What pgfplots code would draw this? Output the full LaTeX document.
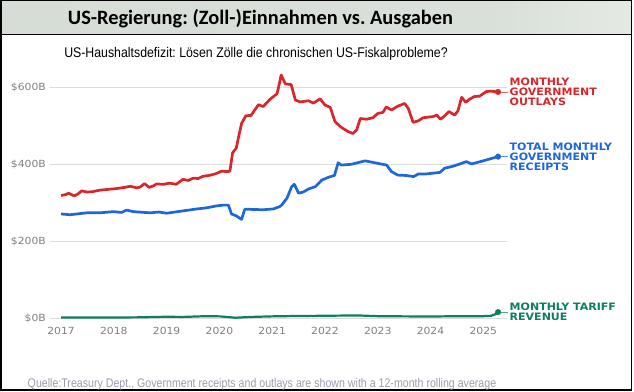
\documentclass[border=0pt]{standalone}
\usepackage{pgfplots}
\pgfplotsset{compat=1.18}
\usepackage{fontspec}
\setmainfont{Liberation Sans}
\newfontfamily\titlefont{Carlito}
\newfontfamily\narrowfont{Liberation Sans}[FakeStretch=0.88]
\newfontfamily\footfont{Liberation Sans}[FakeStretch=0.85]
\newfontfamily\labelfont{DejaVu Sans}[FakeStretch=1.08]
\newfontfamily\tickfam{DejaVu Sans}[FakeStretch=1.1]
\frenchspacing
\definecolor{outred}{HTML}{D9262B}
\definecolor{recblue}{HTML}{1E66DC}
\definecolor{targreen}{HTML}{0B7F60}
\definecolor{tickgray}{HTML}{7F7F7F}
\definecolor{gridgray}{HTML}{DCDCDC}
\definecolor{footgray}{HTML}{9C9CAC}
\definecolor{bandgray}{HTML}{D3DBD3}
\pgfdeclarehorizontalshading{band}{100bp}{color(0bp)=(bandgray); color(65bp)=(bandgray!85!white); color(100bp)=(white)}
\newcommand{\lab}{\labelfont\bfseries\fontsize{10.2bp}{10bp}\selectfont}

\pgfplotstableread{
x y
2017.00 320
2017.08 322
2017.14 326
2017.25 319
2017.32 324
2017.39 332
2017.49 329
2017.60 330
2017.74 334
2017.90 336
2018.05 338
2018.20 341
2018.31 344
2018.43 340
2018.50 342
2018.58 351
2018.67 341
2018.75 345
2018.81 350
2018.94 349
2019.06 352
2019.18 349
2019.31 362
2019.41 359
2019.50 365
2019.60 364
2019.69 370
2019.80 372
2019.92 376
2020.04 383
2020.17 382
2020.20 384
2020.25 431
2020.32 443
2020.36 470
2020.42 507
2020.50 527
2020.60 528
2020.74 556
2020.83 551
2020.96 570
2021.09 584
2021.12 600
2021.17 633
2021.25 610
2021.36 608
2021.44 568
2021.53 563
2021.69 566
2021.78 560
2021.91 571
2022.00 555
2022.10 549
2022.19 512
2022.31 497
2022.44 486
2022.53 481
2022.60 490
2022.67 520
2022.79 518
2022.91 522
2023.00 533
2023.10 536
2023.16 550
2023.26 542
2023.38 552
2023.51 559
2023.58 546
2023.67 510
2023.77 514
2023.86 522
2024.05 525
2024.12 529
2024.19 518
2024.27 527
2024.35 538
2024.46 529
2024.52 540
2024.59 575
2024.67 562
2024.74 570
2024.83 577
2024.93 578
2025.06 590
2025.15 591
2025.28 589
}\outlays

\pgfplotstableread{
x y
2017.00 272
2017.17 270
2017.49 275
2017.74 275
2017.99 278
2018.15 276
2018.24 282
2018.37 278
2018.69 275
2018.85 277
2019.00 274
2019.31 280
2019.57 285
2019.76 288
2019.95 293
2020.07 295
2020.17 295
2020.23 272
2020.32 267
2020.42 258
2020.48 284
2020.57 284
2020.83 283
2021.02 285
2021.14 291
2021.18 295
2021.28 313
2021.37 343
2021.42 349
2021.50 326
2021.59 329
2021.69 337
2021.82 343
2021.94 360
2022.06 367
2022.18 372
2022.25 405
2022.31 399
2022.50 401
2022.76 410
2022.98 404
2023.17 399
2023.26 382
2023.38 373
2023.54 372
2023.68 369
2023.77 376
2023.92 376
2024.18 380
2024.27 391
2024.40 395
2024.56 402
2024.68 408
2024.78 402
2025.00 410
2025.28 421
}\receipts

\pgfplotstableread{
x y
2017.00 3
2017.50 3
2018.00 3
2018.50 3.5
2019.00 5
2019.30 4.5
2019.75 6.5
2020.00 6
2020.30 2.5
2020.60 4.5
2021.00 6
2021.50 7
2022.00 7.5
2022.60 8.5
2023.00 6.5
2023.50 6
2024.00 5.5
2024.50 6.5
2025.00 6.5
2025.15 7.5
2025.22 11
2025.28 17
}\tariff

\begin{document}
\begin{tikzpicture}
\path[use as bounding box] (0bp,0bp) rectangle (634bp,392bp);
% title band
\shade[shading=band] (1.5bp,358bp) rectangle (631bp,391bp);
\draw[line width=1bp] (1.5bp,357.5bp) -- (631bp,357.5bp);
\draw[line width=1.5bp] (0.75bp,1.75bp) rectangle (631.25bp,391.25bp);
\node[anchor=base, inner sep=0pt] at (260.5bp,367bp) {\titlefont\bfseries\fontsize{20.4bp}{22bp}\selectfont US-Regierung: (Zoll-)Einnahmen vs. Ausgaben};
\node[anchor=base, inner sep=0pt] at (256bp,334.7bp) {\narrowfont\fontsize{14bp}{16bp}\selectfont US-Haushaltsdefizit: Lösen Zölle die chronischen US-Fiskalprobleme?};
\node[anchor=base, inner sep=0pt, text=footgray] at (262bp,4.5bp) {\footfont\fontsize{12.5bp}{14bp}\selectfont Quelle:Treasury Dept., Government receipts and outlays are shown with a 12-month rolling average};

\begin{axis}[
  at={(50bp,71.4bp)}, anchor=south west,
  scale only axis, width=457bp, height=248.3bp,
  xmin=2016.79, xmax=2025.45, ymin=-5, ymax=640,
  axis line style={draw=none},
  tick style={draw=none},
  ymajorgrids, grid style={draw=gridgray, line width=0.9bp},
  xtick={2017,2018,2019,2020,2021,2022,2023,2024,2025},
  xticklabels={2017,2018,2019,2020,2021,2022,2023,2024,2025},
  ytick={0,200,400,600},
  yticklabels={\$0B,\$200B,\$400B,\$600B},
  /pgf/number format/assume math mode=true,
  ticklabel style={font=\tickfam\fontsize{9.8bp}{10bp}\selectfont, text=tickgray, inner sep=0pt},
  yticklabel style={anchor=east, xshift=-4bp},
  xticklabel style={anchor=north, yshift=-6bp},
  clip=false,
]
\addplot[outred, line width=2.7bp, line join=round] table {\outlays};
\addplot[recblue, line width=2.7bp, line join=round] table {\receipts};
\addplot[targreen, line width=2.2bp, line join=round] table {\tariff};
\addplot[outred!70, line width=0.8bp] coordinates {(2025.28,589) (2025.46,589)};
\addplot[recblue!70, line width=0.8bp] coordinates {(2025.28,421) (2025.46,421)};
\addplot[targreen!70, line width=0.8bp] coordinates {(2025.28,17) (2025.46,17)};
\addplot[outred, only marks, mark=*, mark size=2.8bp] coordinates {(2025.28,589)};
\addplot[recblue, only marks, mark=*, mark size=2.8bp] coordinates {(2025.28,421)};
\addplot[targreen, only marks, mark=*, mark size=2.8bp] coordinates {(2025.28,17)};
\end{axis}

% right labels
\node[anchor=base west, inner sep=0pt, text=outred] at (509.5bp,306.3bp) {\lab MONTHLY};
\node[anchor=base west, inner sep=0pt, text=outred] at (509.5bp,296.4bp) {\lab GOVERNMENT};
\node[anchor=base west, inner sep=0pt, text=outred] at (509.5bp,286.7bp) {\lab OUTLAYS};
\node[anchor=base west, inner sep=0pt, text=recblue] at (509.5bp,241bp) {\lab TOTAL MONTHLY};
\node[anchor=base west, inner sep=0pt, text=recblue] at (509.5bp,231.3bp) {\lab GOVERNMENT};
\node[anchor=base west, inner sep=0pt, text=recblue] at (509.5bp,221.5bp) {\lab RECEIPTS};
\node[anchor=base west, inner sep=0pt, text=targreen] at (509.5bp,81bp) {\lab MONTHLY TARIFF};
\node[anchor=base west, inner sep=0pt, text=targreen] at (509.5bp,71.3bp) {\lab REVENUE};
\end{tikzpicture}
\end{document}
